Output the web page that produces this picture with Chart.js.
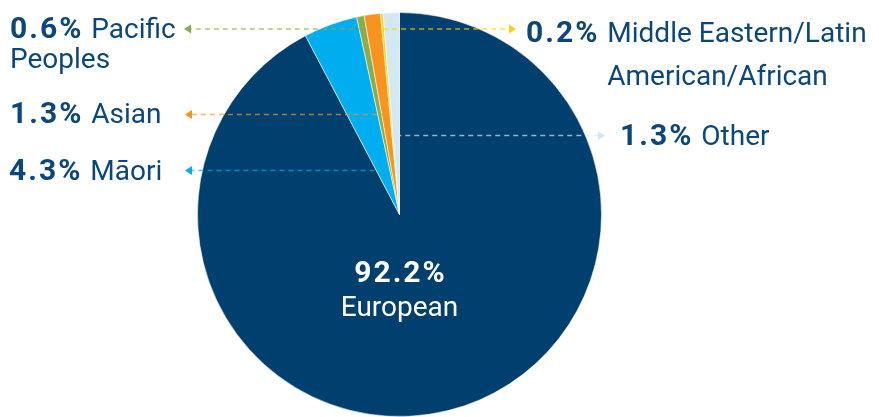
<!DOCTYPE html>
<html>
<head>
<meta charset="utf-8">
<script src="https://cdn.jsdelivr.net/npm/chart.js@4"></script>
<style>
  html, body { margin: 0; padding: 0; background: #fff; overflow: hidden; }
  #wrap { width: 879px; height: 417px; }
</style>
</head>
<body>
<div id="wrap"><canvas id="ethChart" width="879" height="417"></canvas></div>
<script>
// ethnicity shares, clockwise from 12 o'clock
const categories = ['European', 'Māori', 'Pacific Peoples', 'Asian', 'Middle Eastern/Latin American/African', 'Other'];
const shares = [92.2, 4.3, 0.6, 1.3, 0.2, 1.3];
const labelNames = [['European'], ['Māori'], ['Pacific', 'Peoples'], ['Asian'], ['Middle Eastern/Latin', 'American/African'], ['Other']];

const sliceColors = ['#003f6e', '#00aeef', '#8dab48', '#f7941d', '#ffd200', '#d4e8f1'];
const textColor = '#0c467a';

// where each callout sits (index -> layout)
const callouts = [
    { i: 2, side: 'left', lineY: 29, tipX: 184, textX: 10, baseY: 38 },
    { i: 3, side: 'left', lineY: 114.5, tipX: 185, textX: 10, baseY: 123 },
    { i: 1, side: 'left', lineY: 170.5, tipX: 185, textX: 9, baseY: 180 },
    { i: 4, side: 'right', lineY: 29, tipX: 516, textX: 526, baseY: 42 },
    { i: 5, side: 'right', lineY: 135.5, tipX: 605, textX: 620, baseY: 145 }
];

const boldFont = 'bold 30px Roboto';
const regFont = '28px Roboto';

function pct(v) {
    return v.toFixed(1) + '%';
}

function drawPct(ctx, txt, x, y) {
    ctx.font = boldFont;
    ctx.letterSpacing = '2px';
    ctx.fillText(txt, x, y);
    const w = ctx.measureText(txt).width;
    ctx.letterSpacing = '0px';
    return w;
}

const calloutPlugin = {
    id: 'callouts',
    afterDatasetsDraw(chart) {
        const ctx = chart.ctx;
        const meta = chart.getDatasetMeta(0);
        ctx.save();
        ctx.textBaseline = 'alphabetic';
        ctx.textAlign = 'left';

        callouts.forEach(c => {
            const arc = meta.data[c.i];
            const mid = (arc.startAngle + arc.endAngle) / 2;
            const r = (c.lineY - arc.y) / Math.sin(mid);
            const x0 = arc.x + r * Math.cos(mid);
            const col = sliceColors[c.i];
            const dir = c.side === 'left' ? -1 : 1;
            const baseX = c.tipX - dir * 7;

            // dashed leader
            ctx.save();
            ctx.globalAlpha = 0.7;
            ctx.strokeStyle = col;
            ctx.lineWidth = 1.5;
            ctx.setLineDash([5, 4]);
            ctx.beginPath();
            ctx.moveTo(x0, c.lineY);
            ctx.lineTo(baseX, c.lineY);
            ctx.stroke();
            ctx.restore();

            // arrow head
            ctx.fillStyle = col;
            ctx.beginPath();
            ctx.moveTo(c.tipX, c.lineY);
            ctx.lineTo(baseX, c.lineY - 4.5);
            ctx.lineTo(baseX, c.lineY + 4.5);
            ctx.closePath();
            ctx.fill();

            // label text
            ctx.fillStyle = textColor;
            const w = drawPct(ctx, pct(shares[c.i]), c.textX, c.baseY);
            const nameX = c.textX + w + 8;
            ctx.font = regFont;
            const names = labelNames[c.i];
            ctx.fillText(names[0], nameX, c.baseY);
            for (let k = 1; k < names.length; k++) {
                const x = c.side === 'left' ? c.textX : nameX;
                ctx.fillText(names[k], x, c.baseY + 30 * k + (c.side === 'right' ? 13 : 0));
            }
        });

        // big slice label
        const big = meta.data[0];
        ctx.fillStyle = '#ffffff';
        ctx.textAlign = 'center';
        ctx.font = boldFont;
        ctx.letterSpacing = '2px';
        ctx.fillText(pct(shares[0]), big.x + 1, big.y + 67);
        ctx.letterSpacing = '0px';
        ctx.font = regFont;
        ctx.fillText(labelNames[0][0], big.x, big.y + 101);
        ctx.restore();
    }
};

new Chart(document.getElementById('ethChart'), {
    type: 'pie',
    data: {
        labels: categories,
        datasets: [{
            data: shares,
            backgroundColor: sliceColors,
            borderColor: 'rgba(255,255,255,0.55)',
            borderWidth: 1
        }]
    },
    options: {
        responsive: false,
        animation: false,
        layout: { padding: { left: 197, right: 277, top: 12, bottom: 0 } },
        plugins: {
            legend: { display: false },
            tooltip: { enabled: false }
        }
    },
    plugins: [calloutPlugin]
});
</script>
</body>
</html>
